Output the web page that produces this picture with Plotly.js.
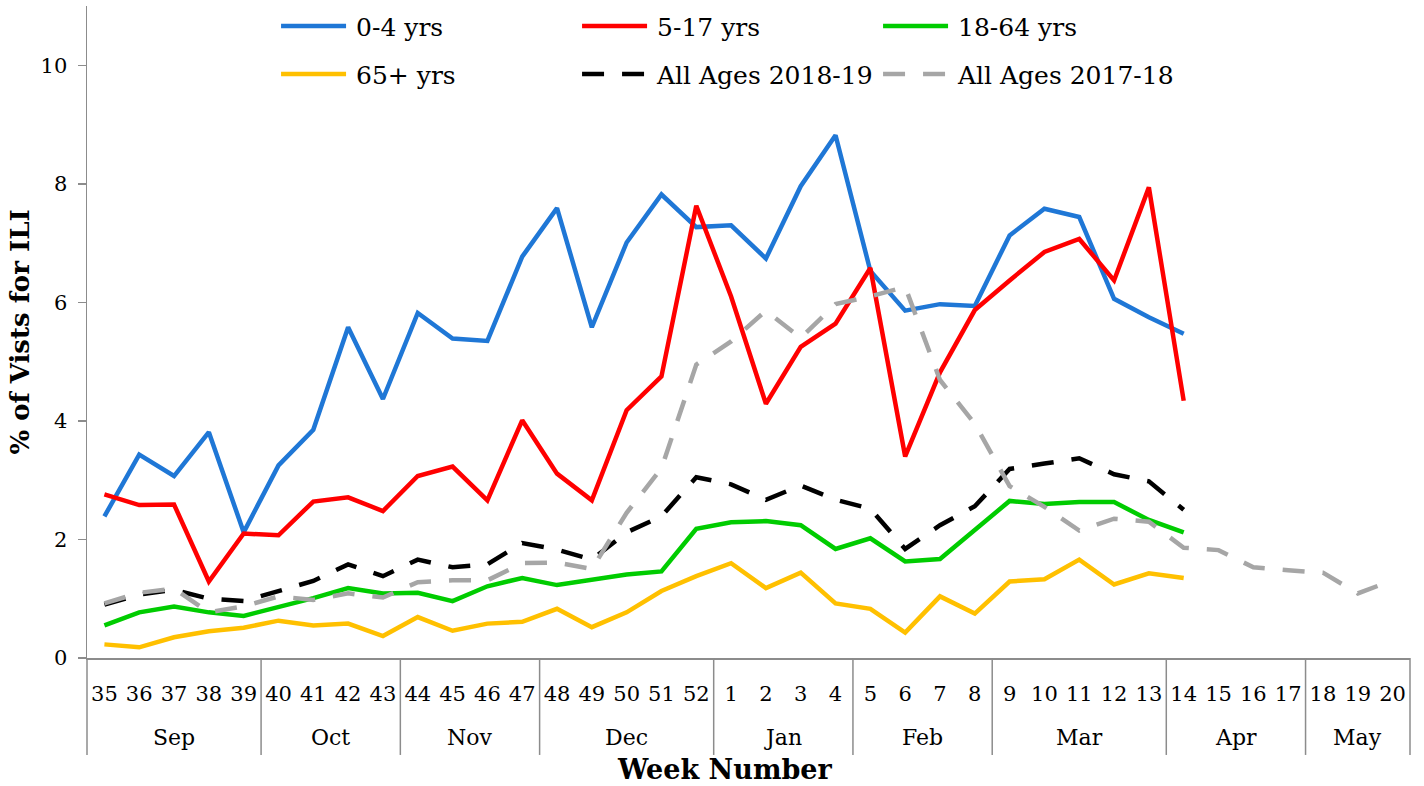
<!DOCTYPE html>
<html>
<head>
<meta charset="utf-8">
<script src="https://cdn.plot.ly/plotly-3.0.1.min.js"></script>
<style>html,body{margin:0;padding:0;background:#fff;}#chart{width:1424px;height:786px;}</style>
</head>
<body>
<div id="chart"></div>
<script>
const months = ["Sep","Sep","Sep","Sep","Sep","Oct","Oct","Oct","Oct","Nov","Nov","Nov","Nov","Dec","Dec","Dec","Dec","Dec","Jan","Jan","Jan","Jan","Feb","Feb","Feb","Feb","Mar","Mar","Mar","Mar","Mar","Apr","Apr","Apr","Apr","May","May","May"];
const weeks = ["35","36","37","38","39","40","41","42","43","44","45","46","47","48","49","50","51","52","1","2","3","4","5","6","7","8","9","10","11","12","13","14","15","16","17","18","19","20"];

const age0_4 = [2.39,3.43,3.07,3.81,2.12,3.25,3.85,5.58,4.37,5.82,5.39,5.35,6.77,7.59,5.58,7.01,7.82,7.27,7.30,6.74,7.96,8.82,6.53,5.86,5.97,5.94,7.13,7.58,7.44,6.06,5.75,5.47];
const age5_17 = [2.76,2.58,2.59,1.29,2.10,2.07,2.64,2.71,2.48,3.07,3.23,2.66,4.01,3.11,2.66,4.18,4.75,7.63,6.10,4.29,5.25,5.64,6.58,3.40,4.82,5.87,6.37,6.85,7.07,6.37,7.94,4.34];
const age18_64 = [0.55,0.77,0.87,0.77,0.71,0.86,1.01,1.18,1.09,1.10,0.96,1.21,1.35,1.23,1.32,1.41,1.46,2.18,2.29,2.31,2.24,1.84,2.02,1.63,1.67,2.15,2.65,2.60,2.63,2.63,2.33,2.12];
const age65 = [0.23,0.18,0.35,0.45,0.51,0.63,0.55,0.58,0.37,0.69,0.46,0.58,0.61,0.83,0.52,0.77,1.13,1.38,1.60,1.18,1.44,0.92,0.83,0.43,1.04,0.75,1.29,1.33,1.66,1.24,1.43,1.35];
const all2018_19 = [0.90,1.07,1.15,1.00,0.96,1.13,1.30,1.58,1.38,1.66,1.53,1.58,1.94,1.83,1.66,2.12,2.39,3.05,2.93,2.67,2.91,2.67,2.52,1.84,2.24,2.56,3.19,3.28,3.37,3.10,2.98,2.50];
const all2017_18 = [0.92,1.10,1.17,0.77,0.87,1.04,0.98,1.09,1.02,1.28,1.31,1.31,1.60,1.61,1.50,2.45,3.20,4.95,5.34,5.86,5.40,5.97,6.10,6.26,4.69,3.95,2.90,2.55,2.15,2.35,2.30,1.86,1.82,1.53,1.48,1.44,1.09,1.31];

const names = ["0-4 yrs","5-17 yrs","18-64 yrs","65+ yrs","All Ages 2018-19","All Ages 2017-18"];
const FONT = "DejaVu Serif";

function pad(arr){ const o = arr.slice(); while(o.length < weeks.length) o.push(null); return o; }

const series = [
  {y: age0_4, color: "#1F77D6", dash: "solid", legend: "legend"},
  {y: age5_17, color: "#FF0000", dash: "solid", legend: "legend"},
  {y: age18_64, color: "#00CC00", dash: "solid", legend: "legend"},
  {y: age65, color: "#FFC000", dash: "solid", legend: "legend2"},
  {y: all2018_19, color: "#000000", dash: "22px,18px", legend: "legend2"},
  {y: all2017_18, color: "#A6A6A6", dash: "22px,18px", legend: "legend2"}
];

const traces = series.map((s, i) => ({
  type: "scatter", mode: "lines",
  x: weeks, y: pad(s.y), name: "\u2009" + names[i],
  line: {color: s.color, width: 4.5, dash: s.dash},
  legend: s.legend,
  connectgaps: false,
  hoverinfo: "skip"
}));

// month groups derived from the months array
const groups = [];
months.forEach((m, i) => {
  if (!groups.length || groups[groups.length-1].name !== m) groups.push({name: m, start: i, end: i});
  else groups[groups.length-1].end = i;
});
const n = weeks.length;
const divBottom = -0.1487;
const shapes = [];
groups.forEach((g, k) => {
  if (k === 0) shapes.push({type: "line", xref: "paper", yref: "paper", x0: g.start / n, x1: g.start / n, y0: 0, y1: divBottom, line: {color: "#8c8c8c", width: 1.5}});
  shapes.push({type: "line", xref: "paper", yref: "paper", x0: (g.end + 1) / n, x1: (g.end + 1) / n, y0: 0, y1: divBottom, line: {color: "#8c8c8c", width: 1.5}});
});
const annotations = groups.map(g => ({
  xref: "x", yref: "paper", x: (g.start + g.end) / 2, y: -0.1226,
  xanchor: "center", yanchor: "middle", showarrow: false,
  text: g.name, font: {family: FONT, size: 22, color: "#000"}
}));
annotations.push({
  xref: "paper", yref: "paper", x: 0.482, y: -0.1717,
  xanchor: "center", yanchor: "middle", showarrow: false,
  text: "<b>Week Number</b>", font: {family: FONT, size: 27, color: "#000"}
});

const legendCommon = {
  orientation: "h", xanchor: "left", yanchor: "middle",
  bgcolor: "rgba(0,0,0,0)", borderwidth: 0,
  font: {family: FONT, size: 25, color: "#000"},
  itemwidth: 65, entrywidth: 221, entrywidthmode: "pixels",
  traceorder: "normal"
};

const layout = {
  width: 1424, height: 786,
  margin: {l: 87, r: 14, t: 6, b: 128, autoexpand: false},
  paper_bgcolor: "#fff", plot_bgcolor: "#fff",
  font: {family: FONT, color: "#000"},
  showlegend: true,
  legend: Object.assign({}, legendCommon, {x: 0.1429, y: 0.9689}),
  legend2: Object.assign({}, legendCommon, {x: 0.1429, y: 0.8953}),
  xaxis: {
    type: "category", categoryorder: "array", categoryarray: weeks,
    showline: true, linecolor: "#8c8c8c", linewidth: 1.5,
    showgrid: false, zeroline: false, automargin: false,
    ticks: "", ticklabelstandoff: 16,
    tickfont: {family: FONT, size: 21, color: "#000"},
    range: [-0.5, n - 0.5], tickangle: 0
  },
  yaxis: {
    range: [0, 11], tickvals: [0,2,4,6,8,10],
    showline: true, linecolor: "#8c8c8c", linewidth: 1.5,
    showgrid: false, zeroline: false, automargin: false,
    ticks: "outside", ticklen: 8, tickcolor: "#8c8c8c", tickwidth: 1.5,
    ticklabelstandoff: 6,
    tickfont: {family: FONT, size: 21, color: "#000"},
    title: {text: "<b>% of Vists for ILI</b>", font: {family: FONT, size: 26, color: "#000"}, standoff: 3}
  },
  shapes: shapes,
  annotations: annotations
};

Plotly.newPlot("chart", traces, layout, {displayModeBar: false, staticPlot: true});
</script>
</body>
</html>
